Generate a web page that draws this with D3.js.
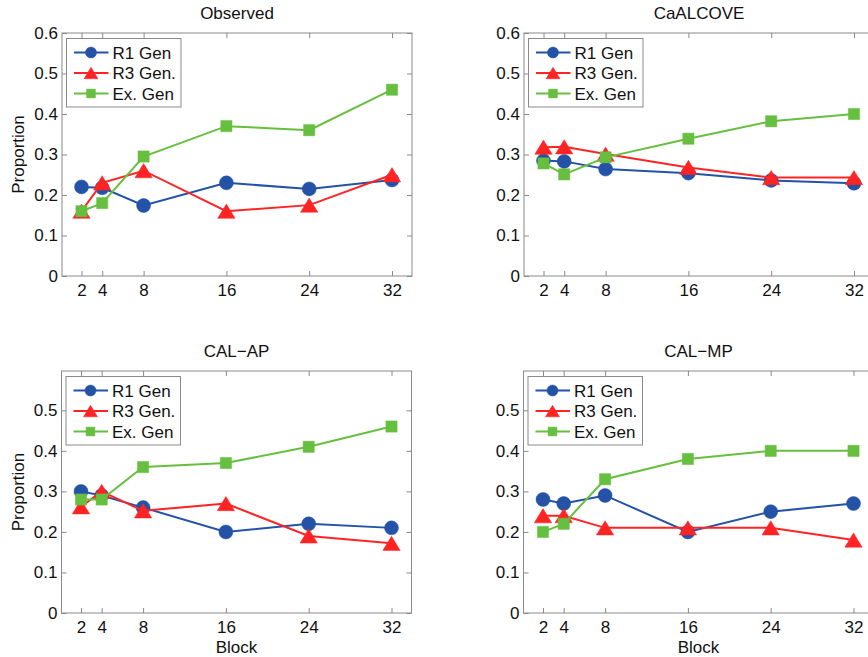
<!DOCTYPE html>
<html>
<head>
<meta charset="utf-8">
<script src="https://cdn.jsdelivr.net/npm/d3@7"></script>
<style>
  html, body { margin: 0; padding: 0; background: #fff; }
  svg { display: block; }
  text { font-family: "Liberation Sans", Arial, Helvetica, sans-serif; fill: #111; }
</style>
</head>
<body>
<svg id="chart" width="868" height="657"></svg>
<script>
// ---- data ----
const blocks = [2, 4, 8, 16, 24, 32];
const seriesNames = ["R1 Gen", "R3 Gen.", "Ex. Gen"];
const panelTitles = ["Observed", "CaALCOVE", "CAL\u2212AP", "CAL\u2212MP"];

const observedR1 = [0.22, 0.218, 0.174, 0.23, 0.215, 0.237];
const observedR3 = [0.16, 0.23, 0.26, 0.16, 0.175, 0.25];
const observedEx = [0.16, 0.18, 0.295, 0.37, 0.36, 0.46];

const caalcoveR1 = [0.285, 0.283, 0.264, 0.254, 0.236, 0.229];
const caalcoveR3 = [0.318, 0.319, 0.301, 0.268, 0.243, 0.243];
const caalcoveEx = [0.278, 0.251, 0.293, 0.339, 0.382, 0.40];

const calapR1 = [0.30, 0.29, 0.26, 0.20, 0.22, 0.21];
const calapR3 = [0.262, 0.30, 0.252, 0.27, 0.19, 0.172];
const calapEx = [0.28, 0.28, 0.36, 0.37, 0.41, 0.46];

const calmpR1 = [0.28, 0.27, 0.29, 0.20, 0.25, 0.27];
const calmpR3 = [0.24, 0.24, 0.21, 0.21, 0.21, 0.18];
const calmpEx = [0.20, 0.22, 0.33, 0.38, 0.40, 0.40];

const yTicksTop = [0, 0.1, 0.2, 0.3, 0.4, 0.5, 0.6];
const yTicksBottom = [0, 0.1, 0.2, 0.3, 0.4, 0.5];

const colors = ["#2352a6", "#ff2424", "#66bf3f"];
const markers = ["circle", "triangle", "square"];

const panels = [
  { title: panelTitles[0], data: [observedR1, observedR3, observedEx], left: 62, top: 33, bottom: 276, yMax: 0.6, yTicks: yTicksTop, ylabel: true, xlabel: false },
  { title: panelTitles[1], data: [caalcoveR1, caalcoveR3, caalcoveEx], left: 524, top: 33, bottom: 276, yMax: 0.6, yTicks: yTicksTop, ylabel: false, xlabel: false },
  { title: panelTitles[2], data: [calapR1, calapR3, calapEx], left: 61.5, top: 371, bottom: 613, yMax: 0.597, yTicks: yTicksBottom, ylabel: true, xlabel: true },
  { title: panelTitles[3], data: [calmpR1, calmpR3, calmpEx], left: 523.5, top: 371, bottom: 613, yMax: 0.597, yTicks: yTicksBottom, ylabel: false, xlabel: true }
];

const svg = d3.select("#chart");
const W = 350;
const FS = 17;

function markerPath(type, size) {
  if (type === "triangle") {
    const h = size * 0.92, w = size * 1.12;
    return `M0,${-h/2}L${w/2},${h/2}L${-w/2},${h/2}Z`;
  }
  if (type === "square") {
    const s = size * 0.8;
    return `M${-s/2},${-s/2}H${s/2}V${s/2}H${-s/2}Z`;
  }
  return null;
}

function drawMarker(g, type, x, y, color, size) {
  if (type === "circle") {
    g.append("circle").attr("cx", x).attr("cy", y).attr("r", size / 2)
      .attr("fill", color).attr("stroke", color).attr("stroke-width", 0.5);
  } else {
    g.append("path").attr("d", markerPath(type, size))
      .attr("transform", `translate(${x},${y})`)
      .attr("fill", color).attr("stroke", color).attr("stroke-width", 0.5);
  }
}

const yFmt = d => d === 0 ? "0" : d3.format(".1f")(d);

panels.forEach(p => {
  const g = svg.append("g").attr("transform", `translate(${p.left},${p.top})`);
  const H = p.bottom - p.top;
  const x = d3.scaleLinear().domain([2, 32]).range([19.5, 330]);
  const y = d3.scaleLinear().domain([0, p.yMax]).range([H, 0]);

  // box
  g.append("rect").attr("x", 0).attr("y", 0).attr("width", W).attr("height", H)
    .attr("fill", "none").attr("stroke", "#8a8a8a").attr("stroke-width", 1);

  // axes (inward ticks)
  const ax = d3.axisBottom(x).tickValues(blocks).tickSizeInner(-5).tickSizeOuter(0).tickPadding(8).tickFormat(d3.format("d"));
  const gx = g.append("g").attr("transform", `translate(0,${H})`).call(ax);
  const ay = d3.axisLeft(y).tickValues(p.yTicks).tickSizeInner(-5).tickSizeOuter(0).tickPadding(4).tickFormat(yFmt);
  const gy = g.append("g").call(ay);
  const axT = d3.axisTop(x).tickValues(blocks).tickSizeInner(-5).tickSizeOuter(0).tickFormat("");
  const gt = g.append("g").call(axT);
  const ayR = d3.axisRight(y).tickValues(p.yTicks).tickSizeInner(-5).tickSizeOuter(0).tickFormat("");
  const gr = g.append("g").attr("transform", `translate(${W},0)`).call(ayR);
  [gx, gy, gt, gr].forEach(a => {
    a.select(".domain").remove();
    a.selectAll(".tick line").attr("stroke", "#8a8a8a");
    a.selectAll("text").attr("font-size", FS).attr("fill", "#111")
      .style("font-family", '"Liberation Sans", Arial, sans-serif');
  });

  // series
  p.data.forEach((vals, si) => {
    const pts = blocks.map((b, i) => [x(b), y(vals[i])]);
    g.append("path").attr("d", d3.line()(pts)).attr("fill", "none")
      .attr("stroke", colors[si]).attr("stroke-width", 2);
    const mg = g.append("g");
    pts.forEach(pt => drawMarker(mg, markers[si], pt[0], pt[1], colors[si], si === 0 ? 14 : (si === 1 ? 15.5 : 14)));
  });

  // legend
  const lg = g.append("g").attr("transform", "translate(4.5,5.5)");
  lg.append("rect").attr("x", 0).attr("y", 0).attr("width", 114.5).attr("height", 68.5)
    .attr("fill", "#fff").attr("stroke", "#8a8a8a").attr("stroke-width", 1);
  seriesNames.forEach((name, si) => {
    const ry = 14 + si * 20.5;
    lg.append("line").attr("x1", 7.5).attr("x2", 42).attr("y1", ry).attr("y2", ry)
      .attr("stroke", colors[si]).attr("stroke-width", 2);
    drawMarker(lg, markers[si], 24.5, ry, colors[si], si === 0 ? 11 : (si === 1 ? 12.5 : 11));
    lg.append("text").attr("x", 46).attr("y", ry).attr("dy", "0.36em")
      .attr("font-size", FS).text(name);
  });

  // title
  g.append("text").attr("x", W / 2).attr("y", -14).attr("text-anchor", "middle")
    .attr("font-size", FS).text(p.title);

  if (p.ylabel) {
    g.append("text").attr("transform", `translate(${24 - p.left},${H / 2}) rotate(-90)`)
      .attr("text-anchor", "middle").attr("font-size", FS).text("Proportion");
  }
  if (p.xlabel) {
    g.append("text").attr("x", W / 2).attr("y", H + 40).attr("text-anchor", "middle")
      .attr("font-size", FS).text("Block");
  }
});
</script>
</body>
</html>
